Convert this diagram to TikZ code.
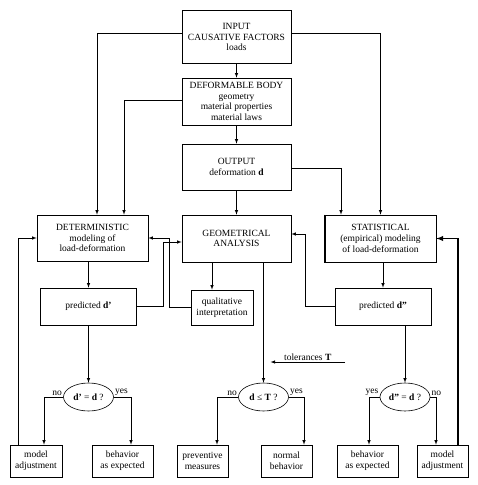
\documentclass[tikz,border=0pt]{standalone}
\usepackage{fontspec}
\setmainfont{Liberation Serif}
\usetikzlibrary{shapes.geometric}

\begin{document}
\begin{tikzpicture}[x=1pt, y=-1pt, >=latex, line width=0.6pt,
  font=\fontsize{9.5}{10.7}\selectfont,
  block/.style={draw, align=center, inner sep=1pt},
  test/.style={draw, ellipse, inner sep=0pt, minimum width=50pt, minimum height=28pt},
  word/.style={inner sep=1pt}]

  \useasboundingbox (0,0) rectangle (477,485);

  % upper chain
  \node[block, minimum width=109pt, minimum height=53pt] (input) at (236.5,37)
    {INPUT\\CAUSATIVE FACTORS\\loads};
  \node[block, minimum width=109pt, minimum height=47pt] (body) at (236.5,101.5)
    {DEFORMABLE BODY\\geometry\\material properties\\material laws};
  \draw[line width=1.4pt] (body.south west) to (body.south east);
  \node[block, minimum width=109pt, minimum height=46pt] (output) at (236.5,167)
    {OUTPUT\\deformation \textbf{d}};

  % models and analysis
  \node[block, minimum width=111pt, minimum height=46pt] (det) at (92.5,238)
    {DETERMINISTIC\\modeling of\\load-deformation};
  \node[block, minimum width=109pt, minimum height=47pt] (geom) at (236.5,238.5)
    {GEOMETRICAL\\ANALYSIS};
  \node[block, minimum width=111pt, minimum height=47pt] (stat) at (380.5,238.5)
    {STATISTICAL\\(empirical) modeling\\of load-deformation};
  \draw[line width=1.2pt] (stat.north west) to (stat.south west) to (stat.south east);

  % predictions
  \node[block, minimum width=96pt, minimum height=37pt] (pred1) at (88.5,306.5)
    {predicted \textbf{d’}};
  \node[block, minimum width=62pt, minimum height=35pt] (qual) at (222,307.5)
    {qualitative\\interpretation};
  \node[block, minimum width=96pt, minimum height=37pt] (pred2) at (383,306.5)
    {predicted \textbf{d”}};

  % tests
  \node[test] (test1) at (88.5,397) {\textbf{d’} = \textbf{d} ?};
  \node[test] (test2) at (263.5,397) {\textbf{d} ≤ \textbf{T} ?};
  \node[test] (test3) at (405,397) {\textbf{d”} = \textbf{d} ?};

  % outcomes
  \node[block, minimum width=52pt, minimum height=32pt] (adjL) at (36,461)
    {model\\adjustment};
  \node[block, minimum width=61pt, minimum height=32pt] (behL) at (122.5,461)
    {behavior\\as expected};
  \node[block, minimum width=51pt, minimum height=32pt] (prev) at (202.5,461)
    {preventive\\measures};
  \node[block, minimum width=51pt, minimum height=32pt] (norm) at (286.5,461)
    {normal\\behavior};
  \node[block, minimum width=61pt, minimum height=32pt] (behR) at (367.5,461)
    {behavior\\as expected};
  \node[block, minimum width=51pt, minimum height=32pt] (adjR) at (442.5,461)
    {model\\adjustment};

  % main chain
  \draw[->] (input) to (body);
  \draw[->] (body) to (output);
  \draw[->] (output) to (geom);

  % causes feed the models
  \draw[->] ([yshift=4pt]input.west) -| ([xshift=4.5pt]det.north);
  \draw[->] ([yshift=1.5pt]body.west) -| ([xshift=31.5pt]det.north);
  \draw[->] ([yshift=4pt]input.east) -| (stat.north);
  \draw[->] ([yshift=-1pt]output.east) -| ([xshift=-39.5pt]stat.north);

  % models to predictions
  \draw[->] (det.south -| pred1.north) to (pred1.north);
  \draw[->] (stat.south -| pred2.north) to (pred2.north);
  \draw[->] ([xshift=-10pt]qual.north |- geom.south) to ([xshift=-10pt]qual.north);

  % feedback between models and analysis
  \draw[->] (qual.west) -| ([xshift=21pt]det.east) to (det.east);
  \draw[->] (pred1.east) -| ([xshift=-18pt,yshift=-3.5pt]geom.west)
    to ([yshift=-3.5pt]geom.west);
  \draw[->] (pred2.west) -| ([xshift=14pt,yshift=4.5pt]geom.east)
    to ([yshift=4.5pt]geom.east);

  % down to the tests
  \draw[->] (pred1) to (test1);
  \draw[->] (geom.south -| test2.north) to (test2.north);
  \draw[->] (pred2.south -| test3.north) to (test3.north);

  % tolerances
  \coordinate (tol) at (345,362);
  \draw[->] (tol) to node[above, word] {tolerances \textbf{T}}
    ([xshift=7pt]tol -| test2.north);

  % decisions
  \draw[->] (test1.west) node[above left, word] {no} -| ([xshift=8pt]adjL.north);
  \draw[->] (test1.east) node[above right, word] {yes} -| ([xshift=8.5pt]behL.north);
  \draw[->] (test2.west) node[above left, word] {no} -| ([xshift=14.5pt]prev.north);
  \draw[->] (test2.east) node[above right, word] {yes} -| ([xshift=17.5pt]norm.north);
  \draw[->] (test3.west) node[above left, word] {yes} -| ([xshift=1.5pt]behR.north);
  \draw[->] (test3.east) node[above right, word] {no} -| ([xshift=-6.5pt]adjR.north);

  % model adjustment loops
  \draw[->] ([xshift=-18pt]adjL.north) |- (det.west);
  \draw[->, line width=1.3pt] ([xshift=15.5pt]adjR.north) |- (stat.east);

\end{tikzpicture}
\end{document}
